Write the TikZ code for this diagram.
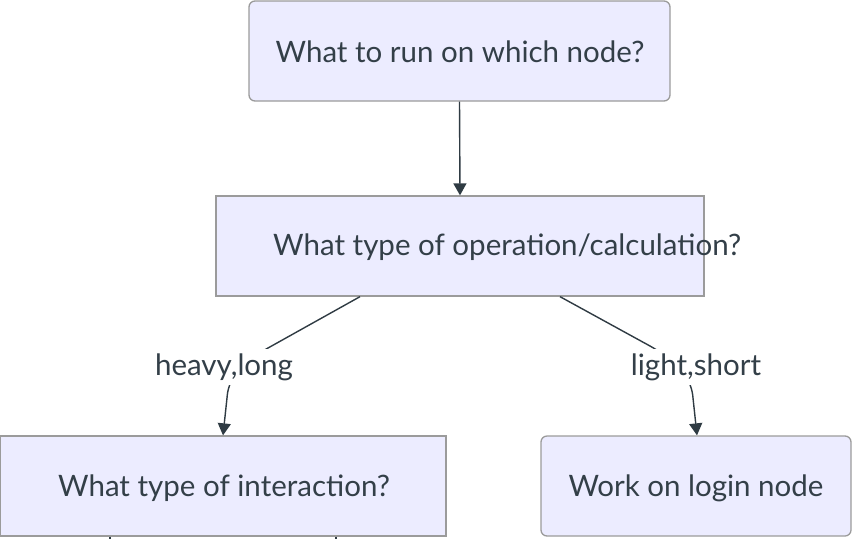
\documentclass[tikz,border=0pt]{standalone}
\usepackage{fontspec}
\setmainfont{Lato}
\usetikzlibrary{arrows.meta}
\definecolor{boxfill}{HTML}{ECECFF}
\definecolor{boxline}{HTML}{9B9B9B}
\definecolor{txt}{HTML}{333F48}
\definecolor{edge}{HTML}{2F3B43}
\tikzset{
  flowbox/.style={draw=boxline, line width=1.3pt, fill=boxfill, minimum height=100pt, inner sep=0pt},
  roundbox/.style={flowbox, rounded corners=6pt},
  boxtext/.style={text=txt, font=\fontsize{29.5}{34}\selectfont, inner sep=0pt},
  lbl/.style={text=txt, font=\fontsize{29.5}{34}\selectfont, fill=white, inner sep=4pt},
  arr/.style={draw=edge, line width=1.4pt, -{Triangle[length=12pt,width=13pt]}},
  plain/.style={draw=edge, line width=1.4pt}
}
\begin{document}
\begin{tikzpicture}[x=1pt,y=-1pt]
\useasboundingbox (0,0) rectangle (853,539);
\node[roundbox, minimum width=421pt] (top) at (459.5,51) {};
\node[boxtext] (toptext) at (460,52) {What to run on which node?};
\node[flowbox, minimum width=488pt] (mid) at (460,246) {};
\node[boxtext, anchor=west] (midtext) at (273,247) {What type of operation/calculation?};
\node[flowbox, minimum width=446pt] (left) at (223,486) {};
\node[boxtext] (lefttext) at (224,488) {What type of interaction?};
\node[roundbox, minimum width=310pt] (right) at (696,486) {};
\node[boxtext] (righttext) at (696,488) {Work on login node};

\draw[arr] (top.south) -- (mid.north);

\draw[arr] ([xshift=-100pt]mid.south) -- (268,348) .. controls (236,366) and (228,382) .. (227,398) -- (left.north);
\draw[arr] ([xshift=100pt]mid.south) -- (650,346) .. controls (682,364) and (692,382) .. (693,398) -- ([xshift=1pt]right.north);

\node[lbl] (l1) at (224,367) {heavy,long};
\node[lbl] (l2) at (696,367) {light,short};

\coordinate (s1) at (110,539);
\coordinate (s2) at (336,539);
\draw[plain] (left.south -| s1) -- (s1);
\draw[plain] (left.south -| s2) -- (s2);
\end{tikzpicture}
\end{document}
